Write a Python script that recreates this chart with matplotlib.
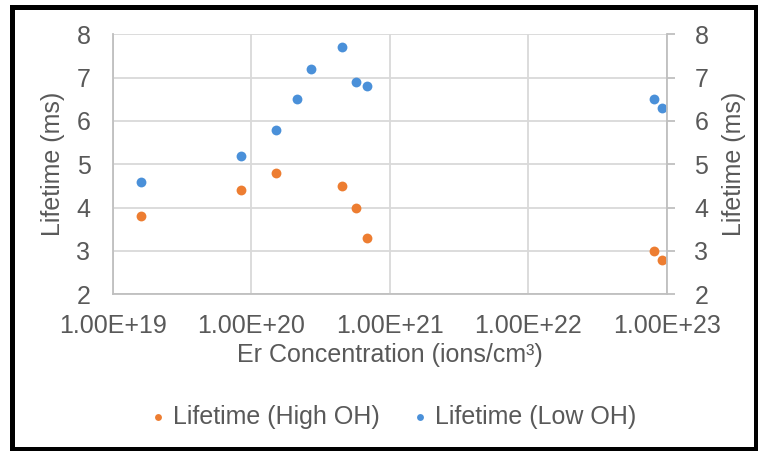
import math
import matplotlib
matplotlib.use("Agg")
import matplotlib.pyplot as plt
from matplotlib.ticker import FixedLocator, FuncFormatter, NullLocator
from matplotlib.patches import Rectangle

# Er concentration (ions/cm3) and lifetimes (ms)
conc_high = [1.6e19, 8.5e19, 1.5e20, 4.5e20, 5.7e20, 6.9e20, 8.1e22, 9.2e22]
life_high = [3.8, 4.4, 4.8, 4.5, 4.0, 3.3, 3.0, 2.8]
conc_low = [1.6e19, 8.5e19, 1.5e20, 2.15e20, 2.7e20, 4.5e20, 5.7e20, 6.9e20, 8.1e22, 9.2e22]
life_low = [4.6, 5.2, 5.8, 6.5, 7.2, 7.7, 6.9, 6.8, 6.5, 6.3]
x_ticks = [1e19, 1e20, 1e21, 1e22, 1e23]
y_ticks = [2, 3, 4, 5, 6, 7, 8]

orange = "#ED7D31"
blue = "#4A90D9"
txt = "#595959"
grid = "#d9d9d9"

plt.rcParams["font.family"] = ["Liberation Sans", "DejaVu Sans"]
plt.rcParams["font.size"] = 18

fig = plt.figure(figsize=(7.58, 4.51), dpi=100)
ax = fig.add_axes([112.7 / 758, 1 - 294.3 / 451, (666.7 - 112.7) / 758, (294.3 - 34.3) / 451])

ax.scatter(conc_high, life_high, s=50, color=orange, label="Lifetime (High OH)", zorder=3, linewidths=0)
ax.scatter(conc_low, life_low, s=50, color=blue, label="Lifetime (Low OH)", zorder=3, linewidths=0)

ax.set_xscale("log")
ax.set_xlim(1e19, 1e23)
ax.set_ylim(2, 8)
ax.xaxis.set_major_locator(FixedLocator(x_ticks))
ax.xaxis.set_minor_locator(NullLocator())
ax.xaxis.set_major_formatter(FuncFormatter(lambda v, p: "1.00E+%d" % round(math.log10(v))))
ax.set_yticks(y_ticks)
ax.grid(True, color=grid, linewidth=1.3, zorder=0)
ax.set_axisbelow(True)
ax.tick_params(axis="both", length=0, colors=txt, labelsize=18)
ax.tick_params(axis="x", pad=14)
ax.tick_params(axis="y", pad=16)
for s in ["top", "right"]:
    ax.spines[s].set_visible(False)
for s in ["left", "bottom"]:
    ax.spines[s].set_color("#bfbfbf")
    ax.spines[s].set_linewidth(1.3)
ax.set_xlabel("Er Concentration (ions/cm³)", color=txt, labelpad=4)
ax.set_ylabel("Lifetime (ms)", color=txt, labelpad=8)

ax2 = ax.twinx()
ax2.set_ylim(2, 8)
ax2.set_yticks(y_ticks)
ax2.tick_params(axis="y", direction="out", length=6, width=1.3, color="#bfbfbf", labelcolor=txt, labelsize=18, pad=14)
for s in ["top", "left", "bottom"]:
    ax2.spines[s].set_visible(False)
ax2.spines["right"].set_color("#bfbfbf")
ax2.spines["right"].set_linewidth(1.3)
ax2.set_ylabel("Lifetime (ms)", color=txt, labelpad=10)

h, l = ax.get_legend_handles_labels()
leg = fig.legend(h, l, loc="center", bbox_to_anchor=(393 / 758, 1 - 417 / 451), ncol=2, frameon=False,
                 handlelength=0.6, handletextpad=0.3, columnspacing=1.3, markerscale=0.7, fontsize=18)
for t in leg.get_texts():
    t.set_color(txt)

fig.patches.append(Rectangle((12 / 758, 2 / 451), 743.5 / 758, 442.5 / 451, transform=fig.transFigure,
                             fill=False, edgecolor="black", linewidth=3.6))

fig.savefig("out.png", dpi=100)
